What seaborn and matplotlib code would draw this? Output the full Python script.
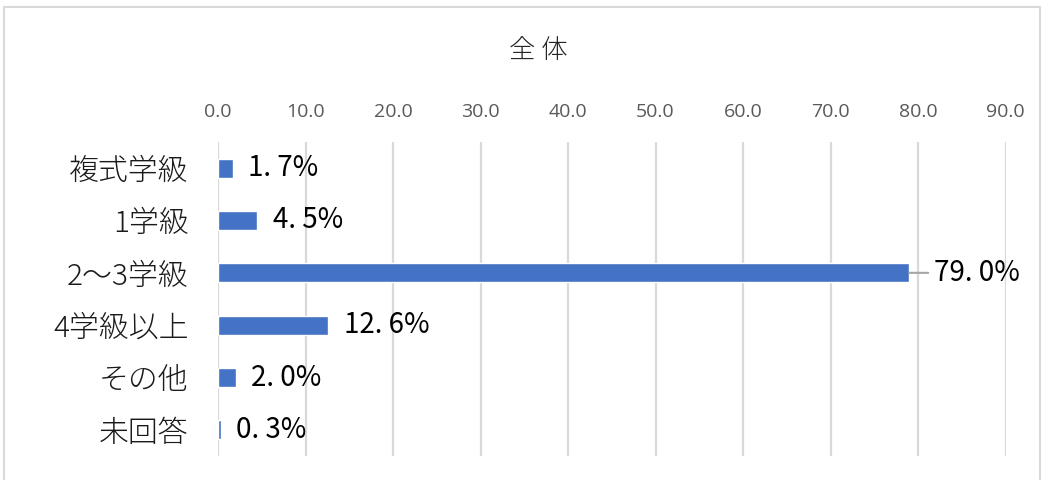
import matplotlib
matplotlib.use("Agg")
import matplotlib.pyplot as plt
from matplotlib.patches import Rectangle
import seaborn as sns
import pandas as pd

categories = ["複式学級", "1学級", "2〜3学級", "4学級以上", "その他", "未回答"]
shares = [1.7, 4.5, 79.0, 12.6, 2.0, 0.3]
x_ticks = [0, 10, 20, 30, 40, 50, 60, 70, 80, 90]
title = "全 体"

sns.set_theme(style="white")
plt.rcParams["font.family"] = ["Noto Sans CJK JP", "DejaVu Sans"]

df = pd.DataFrame({"category": categories, "share": shares})

fig = plt.figure(figsize=(10.46, 4.8), dpi=100)
ax = fig.add_axes([218 / 1046, 24 / 480, (1005.5 - 218) / 1046, 314 / 480])

sns.barplot(data=df, x="share", y="category", orient="h", color="#4472C4",
            saturation=1, width=0.36, ax=ax)

ax.set_xlim(0, 90)
ax.set_ylim(5.5, -0.5)
ax.set_xticks(x_ticks)
ax.set_xticklabels([f"{t:.1f}" for t in x_ticks], family=["Open Sans", "DejaVu Sans"],
                   fontsize=14, color="#595959")
ax.xaxis.tick_top()
ax.tick_params(axis="x", length=0, pad=15)
ax.tick_params(axis="y", length=0, pad=21)
for lab in ax.get_yticklabels():
    lab.set_fontsize(21.5)
    lab.set_fontweight("light")
    lab.set_color("#1a1a1a")
ax.set_xlabel("")
ax.set_ylabel("")
ax.grid(axis="x", color="#D9D9D9", linewidth=1.6)
ax.set_axisbelow(True)
for s in ax.spines.values():
    s.set_visible(False)

# value labels; the longest bar gets a leader line to its label
vmax = max(shares)
for i, v in enumerate(shares):
    txt = f"{v:.1f}".replace(".", ". ") + "%"
    kw = dict(va="center", ha="left", fontsize=20, color="#000000",
              textcoords="offset points")
    if v == vmax:
        ax.annotate(txt, xy=(v, i), xytext=(18, 0),
                    arrowprops=dict(arrowstyle="-", color="#A6A6A6", lw=1.5,
                                    shrinkA=2, shrinkB=0), **kw)
    else:
        ax.annotate(txt, xy=(v, i), xytext=(11, 0), **kw)

fig.text(538 / 1046, 1 - 50 / 480, title, ha="center", va="center",
         fontsize=19, fontweight="light", color="#262626")

# chart frame
fig.patches.append(Rectangle((4 / 1046, -0.01), 1036 / 1046, 1 - 7 / 480 + 0.01,
                             transform=fig.transFigure, fill=False,
                             edgecolor="#D9D9D9", linewidth=1.5))

fig.savefig("out.png", dpi=100)
